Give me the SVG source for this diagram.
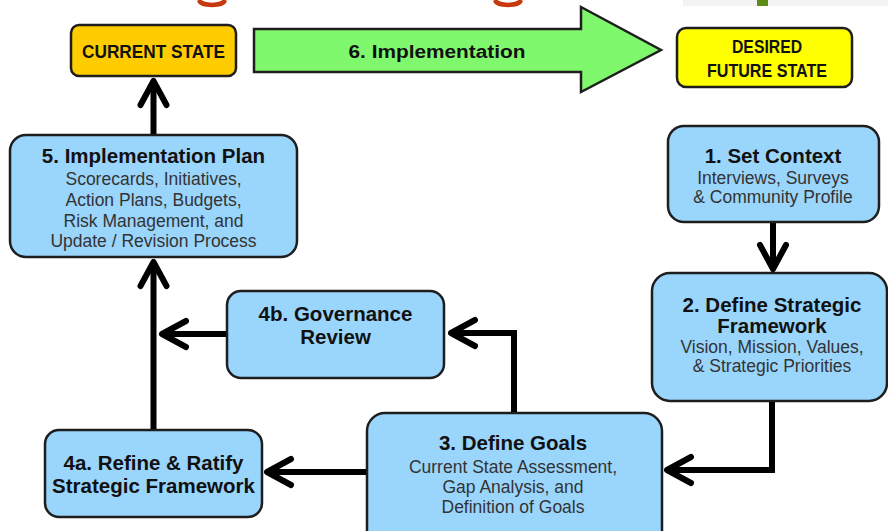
<svg xmlns="http://www.w3.org/2000/svg" width="888" height="531" viewBox="0 0 888 531">
  <defs>
    <style>
      .box { fill: #9ad5fc; stroke: #1e1e1e; stroke-width: 2.5; }
      .title { font-family: "Liberation Sans", Arial, sans-serif; font-weight: bold; font-size: 20.5px; fill: #111; text-anchor: middle; }
      .body { font-family: "Liberation Sans", Arial, sans-serif; font-size: 17.5px; fill: #333; text-anchor: middle; }
      .caps { font-family: "Liberation Sans", Arial, sans-serif; font-weight: bold; font-size: 18px; fill: #111; text-anchor: middle; }
      .conn { fill: none; stroke: #000; stroke-width: 6; marker-end: url(#chevron); }
      .trim { fill: none; stroke: #c6390c; stroke-width: 4.5; stroke-linecap: butt; }
    </style>
    <marker id="chevron" markerUnits="userSpaceOnUse" orient="auto" refX="0" refY="0" markerWidth="40" markerHeight="40" overflow="visible">
      <path d="M -24 -13 L 0 0 L -24 13" fill="none" stroke="#000" stroke-width="6" stroke-linejoin="round" stroke-linecap="round"/>
    </marker>
  </defs>

  <rect width="888" height="531" fill="#fff"/>

  <!-- red heading strokes and page trim along the top edge -->
  <path class="trim" d="M 199 0 C 201 6.5, 223 6.5, 225 0"/>
  <path class="trim" d="M 495 0 C 497 6.5, 519 6.5, 521 0"/>
  <rect x="683" y="0" width="205" height="6" fill="#f3f3f3"/>
  <rect x="757" y="0" width="11" height="6" fill="#5e8a16"/>

  <!-- top row -->
  <g id="current-state">
    <rect x="71" y="25" width="165" height="51" rx="8" fill="#ffcc00" stroke="#1e1e1e" stroke-width="2.5"/>
    <text class="caps" x="153.5" y="58" textLength="143" lengthAdjust="spacingAndGlyphs">CURRENT STATE</text>
  </g>

  <g id="implementation">
    <path d="M 254 29 H 581 V 7 L 661 50 L 581 92 V 72 H 254 Z" fill="#80f86d" stroke="#1e1e1e" stroke-width="2.5" stroke-linejoin="miter"/>
    <text class="caps" x="437" y="58" font-size="20" textLength="177" lengthAdjust="spacingAndGlyphs">6. Implementation</text>
  </g>

  <g id="desired-state">
    <rect x="677" y="28" width="175" height="59" rx="9" fill="#ffff00" stroke="#1e1e1e" stroke-width="2.5"/>
    <text class="caps" x="767" y="53" textLength="70" lengthAdjust="spacingAndGlyphs">DESIRED</text>
    <text class="caps" x="767" y="77" textLength="120" lengthAdjust="spacingAndGlyphs">FUTURE STATE</text>
  </g>

  <!-- process steps -->
  <g id="step5">
    <rect class="box" x="10" y="135" width="287" height="122" rx="16"/>
    <text class="title" x="153.5" y="163">5. Implementation Plan</text>
    <text class="body" x="153.5" y="185">Scorecards, Initiatives,</text>
    <text class="body" x="153.5" y="206">Action Plans, Budgets,</text>
    <text class="body" x="153.5" y="227">Risk Management, and</text>
    <text class="body" x="153.5" y="247">Update / Revision Process</text>
  </g>

  <g id="step1">
    <rect class="box" x="668" y="126" width="211" height="96" rx="16"/>
    <text class="title" x="773" y="163">1. Set Context</text>
    <text class="body" x="773" y="184">Interviews, Surveys</text>
    <text class="body" x="773" y="203">&amp; Community Profile</text>
  </g>

  <g id="step2">
    <rect class="box" x="652" y="273" width="235" height="128" rx="18"/>
    <text class="title" x="772" y="312">2. Define Strategic</text>
    <text class="title" x="772" y="333">Framework</text>
    <text class="body" x="772" y="353">Vision, Mission, Values,</text>
    <text class="body" x="772" y="372">&amp; Strategic Priorities</text>
  </g>

  <g id="step3">
    <rect class="box" x="367" y="413" width="295" height="135" rx="18"/>
    <text class="title" x="513" y="450">3. Define Goals</text>
    <text class="body" x="513" y="473">Current State Assessment,</text>
    <text class="body" x="513" y="493">Gap Analysis, and</text>
    <text class="body" x="513" y="513">Definition of Goals</text>
  </g>

  <g id="step4b">
    <rect class="box" x="227" y="291" width="217" height="87" rx="14"/>
    <text class="title" x="335.5" y="321">4b. Governance</text>
    <text class="title" x="335.5" y="344">Review</text>
  </g>

  <g id="step4a">
    <rect class="box" x="45" y="430" width="217" height="87" rx="14"/>
    <text class="title" x="153.5" y="470">4a. Refine &amp; Ratify</text>
    <text class="title" x="153.5" y="493">Strategic Framework</text>
  </g>

  <!-- connectors -->
  <g id="connectors">
    <path class="conn" d="M 153.5 134 V 81"/>
    <path class="conn" d="M 773 223 V 269"/>
    <path class="conn" d="M 772 402 V 470 H 667"/>
    <path class="conn" d="M 514 412 V 333 H 451"/>
    <path class="conn" d="M 226 334 H 162"/>
    <path class="conn" d="M 153.5 429 V 262"/>
    <path class="conn" d="M 366 472 H 267"/>
  </g>
</svg>
